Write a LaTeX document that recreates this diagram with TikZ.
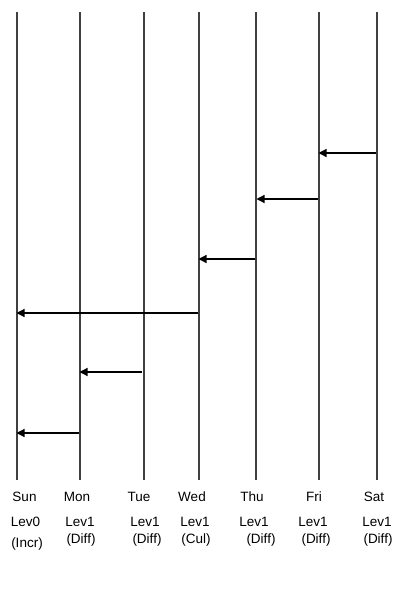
\documentclass[tikz,border=0pt]{standalone}
\usepackage{fontspec}
\setmainfont{Liberation Sans}
\usetikzlibrary{arrows.meta}
\begin{document}
\begin{tikzpicture}[x=1pt,y=-1pt,
  dayline/.style={draw=black!75,line width=1.1pt},
  msg/.style={draw=black,line width=1.2pt,-{Triangle[length=8pt,width=8pt]},shorten >=-0.5pt},
  lbl/.style={font=\fontsize{13.5}{15}\selectfont,inner sep=0pt,anchor=center}]
\useasboundingbox (0,0) rectangle (407,600);
% day lines
\foreach \n/\x in {sun/17,mon/80,tue/144,wed/199,thu/256,fri/319,sat/377}{
  \coordinate (\n T) at (\x,12);
  \coordinate (\n B) at (\x,480);
  \draw[dayline] (\n T) -- (\n B);
}
% arrow end points
\coordinate (a1s) at (376,153); \coordinate (a1e) at (319,153);
\coordinate (a2s) at (318,199); \coordinate (a2e) at (257,199);
\coordinate (a3s) at (255,259); \coordinate (a3e) at (199,259);
\coordinate (a4s) at (198,313); \coordinate (a4e) at (17,313);
\coordinate (a5s) at (142,372); \coordinate (a5e) at (80,372);
\coordinate (a6s) at (79,433); \coordinate (a6e) at (17,433);
\foreach \i in {1,...,6}{\draw[msg] (a\i s) -- (a\i e);}
% labels
\node[lbl] (d1) at (24.5,497) {Sun};
\node[lbl] (d2) at (77,497) {Mon};
\node[lbl] (d3) at (139,497) {Tue};
\node[lbl] (d4) at (192,497) {Wed};
\node[lbl] (d5) at (252,497) {Thu};
\node[lbl] (d6) at (314,497) {Fri};
\node[lbl] (d7) at (374,497) {Sat};
\node[lbl] (l1) at (25.5,522) {Lev0};
\node[lbl] (l2) at (80,522) {Lev1};
\node[lbl] (l3) at (145,522) {Lev1};
\node[lbl] (l4) at (195,522) {Lev1};
\node[lbl] (l5) at (254,522) {Lev1};
\node[lbl] (l6) at (313,522) {Lev1};
\node[lbl] (l7) at (377,522) {Lev1};
\node[lbl] (t1) at (27,544) {(Incr)};
\node[lbl] (t2) at (81,540) {(Diff)};
\node[lbl] (t3) at (147,540) {(Diff)};
\node[lbl] (t4) at (196,540) {(Cul)};
\node[lbl] (t5) at (261,540) {(Diff)};
\node[lbl] (t6) at (316,540) {(Diff)};
\node[lbl] (t7) at (378,540) {(Diff)};
\end{tikzpicture}
\end{document}
